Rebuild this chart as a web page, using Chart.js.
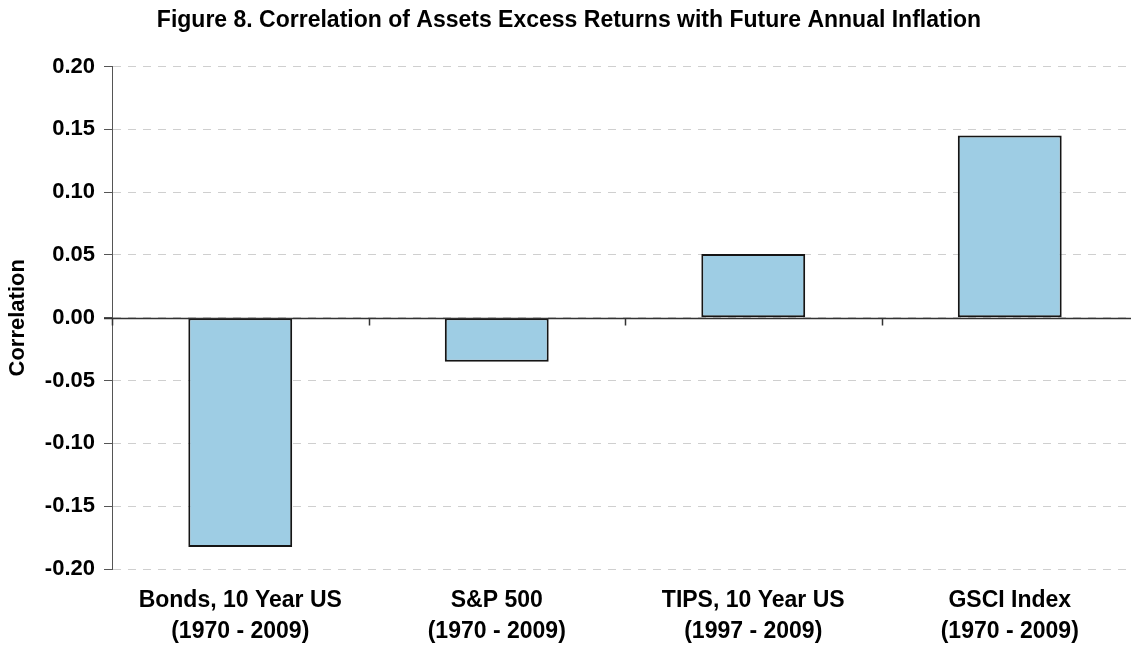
<!DOCTYPE html>
<html>
<head>
<meta charset="utf-8">
<script src="https://cdn.jsdelivr.net/npm/chart.js@4.4.1/dist/chart.umd.min.js"></script>
<style>
  html, body { margin: 0; padding: 0; background: #fff; overflow: hidden; }
  #wrap { width: 1131px; height: 649px; overflow: hidden; }
</style>
</head>
<body>
<div id="wrap"><canvas id="bar-chart" width="1140" height="649"></canvas></div>
<script>
// data
var categories = [
    ['Bonds, 10 Year US', '(1970 - 2009)'],
    ['S&P 500', '(1970 - 2009)'],
    ['TIPS, 10 Year US', '(1997 - 2009)'],
    ['GSCI Index', '(1970 - 2009)']
];
var correlations = [-0.1825, -0.035, 0.0508, 0.1452];
var yTicks = [-0.20, -0.15, -0.10, -0.05, 0.00, 0.05, 0.10, 0.15, 0.20];

var chartTitle = 'Figure 8. Correlation of Assets Excess Returns with Future Annual Inflation';
var fontFamily = '"Liberation Sans", Arial, Helvetica, sans-serif';

// solid zero line and the category ticks hanging from it
var zeroLinePlugin = {
    id: 'zeroLine',
    afterDatasetsDraw: function(chart) {
        var ctx = chart.ctx;
        var x = chart.scales.x;
        var y = chart.scales.y;
        var y0 = Math.round(y.getPixelForValue(0)) + 0.5;
        ctx.save();
        ctx.strokeStyle = '#333';
        ctx.lineWidth = 1.5;
        ctx.beginPath();
        ctx.moveTo(x.left - 8, y0);
        ctx.lineTo(x.right, y0);
        for (var i = 0; i <= categories.length; i++) {
            var px = Math.round(x.getPixelForValue(i - 0.5)) + 0.5;
            ctx.moveTo(px, y0);
            ctx.lineTo(px, y0 + 7);
        }
        ctx.stroke();
        ctx.restore();
    }
};

var ctx = document.getElementById('bar-chart').getContext('2d');
var chart = new Chart(ctx, {
    type: 'bar',
    data: {
        labels: categories,
        datasets: [{
            data: correlations,
            backgroundColor: '#9ECDE4',
            borderColor: '#151515',
            borderWidth: 2,
            borderSkipped: false,
            barPercentage: 0.405,
            categoryPercentage: 1
        }]
    },
    options: {
        responsive: false,
        animation: false,
        devicePixelRatio: 1,
        layout: { padding: { left: 0, right: 2, top: 0, bottom: 0 } },
        plugins: {
            legend: { display: false },
            tooltip: { enabled: false },
            title: {
                display: true,
                text: chartTitle,
                color: '#000',
                font: { family: fontFamily, size: 23, weight: 'bold' },
                padding: { top: 7, bottom: 32 }
            }
        },
        scales: {
            x: {
                grid: { display: false, drawTicks: false },
                border: { display: false },
                ticks: {
                    color: '#000',
                    padding: 16,
                    font: { family: fontFamily, size: 23, weight: 'bold', lineHeight: 1.35 }
                },
                afterFit: function(scale) { scale.height = 80; }
            },
            y: {
                min: -0.2,
                max: 0.2,
                afterBuildTicks: function(scale) {
                    scale.ticks = yTicks.map(function(v) { return { value: v }; });
                },
                ticks: {
                    color: '#000',
                    padding: 9,
                    font: { family: fontFamily, size: 22, weight: 'bold' },
                    callback: function(v) { return Math.abs(v) < 1e-9 ? '0.00' : v.toFixed(2); }
                },
                grid: {
                    color: '#cfcfcf',
                    lineWidth: 1,
                    tickLength: 8,
                    tickColor: '#555',
                    tickWidth: 1,
                    tickBorderDash: []
                },
                border: { display: true, color: '#555', width: 1, dash: [8, 7] },
                title: {
                    display: true,
                    text: 'Correlation',
                    color: '#000',
                    font: { family: fontFamily, size: 22, weight: 'bold' },
                    padding: { top: 5, bottom: 0 }
                },
                afterFit: function(scale) { scale.width = 112; }
            }
        }
    },
    plugins: [zeroLinePlugin]
});
</script>
</body>
</html>
